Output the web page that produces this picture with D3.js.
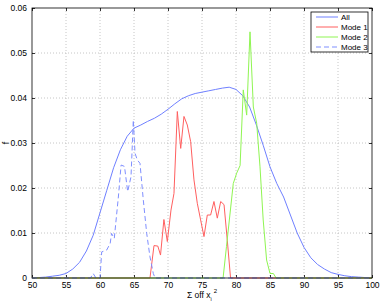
<!DOCTYPE html>
<html>
<head>
<meta charset="utf-8">
<script src="https://cdn.jsdelivr.net/npm/d3@7"></script>
<style>
  body { margin: 0; background: #fff; }
  svg { display: block; font-family: "Liberation Sans", Arial, sans-serif; }
</style>
</head>
<body>
<svg class="vis" width="382" height="303"></svg>
<script>
// x positions and values
const allX = [50,51,52,53,54,55,56,57,58,59,60,61,62,63,64,65,66,67,68,69,70,71,72,73,74,75,76,77,78,79,80,81,82,83,84,85,86,87,88,89,90,91,92,93,94,95,96,97,98,99,100];
const allY = [0,0.0001,0.0002,0.0004,0.0006,0.001,0.002,0.0035,0.006,0.0095,0.0145,0.0195,0.0245,0.0285,0.0315,0.0333,0.034,0.0348,0.0355,0.0364,0.0375,0.0387,0.0398,0.0405,0.041,0.0413,0.0416,0.0419,0.0422,0.0424,0.0419,0.0405,0.038,0.034,0.0295,0.0247,0.021,0.018,0.014,0.01,0.0068,0.0045,0.003,0.002,0.0012,0.0008,0.0005,0.0003,0.0002,0.0001,0];

const mode1X = [50,67.35,67.94,68.5,68.9,69.4,69.9,70.44,70.88,71.37,71.87,72.35,72.84,73.33,73.82,74.31,74.8,75.29,75.78,76.27,76.76,77.25,77.75,78.24,78.72,79.2,100];
const mode1Y = [0,0,0.0072,0.0071,0.0051,0.013,0.0081,0.0151,0.0188,0.037,0.0288,0.0359,0.034,0.0303,0.0218,0.0166,0.0129,0.0092,0.014,0.014,0.017,0.0133,0.017,0.0163,0.0084,0,0];

const mode2X = [50,78.1,78.6,79.1,79.6,80.1,80.6,81.07,81.57,82.06,82.55,83.04,83.53,84.0,84.5,85.0,85.5,85.9,100];
const mode2Y = [0,0,0.007,0.014,0.021,0.0233,0.025,0.0418,0.0362,0.0547,0.038,0.0344,0.0247,0.0129,0.004,0.001,0.001,0,0];

const mode3X = [50,58.6,59.0,59.4,60.0,60.25,60.98,61.5,61.7,62.1,62.7,63.1,63.6,64.07,64.56,64.9,65.15,65.5,65.88,66.37,66.87,67.35,67.84,68.1,100];
const mode3Y = [0,0,0.001,0,0,0.0058,0.0062,0.0077,0.0099,0.0088,0.018,0.0251,0.0248,0.0192,0.0225,0.0351,0.0277,0.0262,0.0255,0.0173,0.0099,0.0047,0.001,0,0];

const xTicks = [50,55,60,65,70,75,80,85,90,95,100];
const yTicks = [0,0.01,0.02,0.03,0.04,0.05,0.06];
const seriesNames = ["All","Mode 1","Mode 2","Mode 3"];

const v = {

    cfg : {
        left : 32, right : 372, top : 8, bottom : 278,
        colors : ["#6f80ff","#ff5f5f","#8ff552","#7f8fff"],
        dash : [null,null,null,"5,3"]
    },

    draw : () => {

        const c = v.cfg;
        const svg = d3.select('svg.vis');

        const x = d3.scaleLinear().domain([50,100]).range([c.left, c.right]);
        const y = d3.scaleLinear().domain([0,0.06]).range([c.bottom, c.top]);

        // grid
        const grid = svg.append("g")
          .attr("stroke", "#b8b8b8")
          .attr("stroke-width", 0.8)
          .attr("stroke-dasharray", "1,2");
        grid.selectAll("line.gx")
          .data(xTicks.slice(1, -1))
          .join("line")
          .attr("x1", d => x(d)).attr("x2", d => x(d))
          .attr("y1", c.top).attr("y2", c.bottom);
        grid.selectAll("line.gy")
          .data(yTicks.slice(1, -1))
          .join("line")
          .attr("class", "gy")
          .attr("x1", c.left).attr("x2", c.right)
          .attr("y1", d => y(d)).attr("y2", d => y(d));

        // axes (inward ticks)
        const fmtY = d => d === 0 ? "0" : d3.format(".2f")(d);
        const bx = svg.append("g").attr("transform", `translate(0,${c.bottom})`)
          .call(d3.axisBottom(x).tickValues(xTicks).tickSizeInner(-3).tickSizeOuter(0).tickPadding(4));
        const tx = svg.append("g").attr("transform", `translate(0,${c.top})`)
          .call(d3.axisTop(x).tickValues(xTicks).tickSizeInner(-3).tickSizeOuter(0).tickFormat(""));
        const ly = svg.append("g").attr("transform", `translate(${c.left},0)`)
          .call(d3.axisLeft(y).tickValues(yTicks).tickSizeInner(-3).tickSizeOuter(0).tickPadding(5).tickFormat(fmtY));
        const ry = svg.append("g").attr("transform", `translate(${c.right},0)`)
          .call(d3.axisRight(y).tickValues(yTicks).tickSizeInner(-3).tickSizeOuter(0).tickFormat(""));

        [bx, tx, ly, ry].forEach(g => {
            g.select(".domain").remove();
            g.selectAll("line").attr("stroke", "#000").attr("stroke-width", 0.8);
            g.selectAll("text").attr("font-size", 8.5).attr("fill", "#000")
              .attr("font-family", "Liberation Sans, Arial, sans-serif");
        });

        // curves
        const line = d3.line().x(d => x(d[0])).y(d => y(d[1]));
        const series = [
            d3.zip(allX, allY),
            d3.zip(mode1X, mode1Y),
            d3.zip(mode2X, mode2Y),
            d3.zip(mode3X, mode3Y)
        ];
        svg.append("g")
          .selectAll("path")
          .data(series)
          .join("path")
          .attr("d", line)
          .attr("fill", "none")
          .attr("stroke", (d, i) => c.colors[i])
          .attr("stroke-width", 1)
          .attr("stroke-dasharray", (d, i) => c.dash[i]);

        // box
        svg.append("rect")
          .attr("x", c.left).attr("y", c.top)
          .attr("width", c.right - c.left).attr("height", c.bottom - c.top)
          .attr("fill", "none").attr("stroke", "#000").attr("stroke-width", 0.8);

        // labels
        svg.append("text")
          .attr("transform", `translate(9,${(c.top + c.bottom) / 2}) rotate(-90)`)
          .attr("text-anchor", "middle")
          .attr("font-size", 9)
          .text("f");

        const xl = svg.append("text")
          .attr("x", (c.left + c.right) / 2)
          .attr("y", 298)
          .attr("text-anchor", "middle")
          .attr("font-size", 8.5);
        xl.append("tspan").text("Σ off x");
        xl.append("tspan").attr("font-size", 5.5).attr("dy", 3).text("i");
        xl.append("tspan").attr("font-size", 6).attr("dy", -8).attr("dx", 2).text("2");

        // legend
        const lg = svg.append("g").attr("transform", "translate(311,12)");
        lg.append("rect")
          .attr("width", 57).attr("height", 40)
          .attr("fill", "#fff").attr("stroke", "#000").attr("stroke-width", 0.8);
        const row = lg.selectAll("g.row")
          .data(seriesNames)
          .join("g")
          .attr("transform", (d, i) => `translate(0,${5 + i * 10})`);
        row.append("line")
          .attr("x1", 5).attr("x2", 27)
          .attr("stroke", (d, i) => c.colors[i])
          .attr("stroke-width", 1)
          .attr("stroke-dasharray", (d, i) => c.dash[i]);
        row.append("text")
          .attr("x", 30).attr("dy", "0.35em")
          .attr("font-size", 8)
          .text(d => d);
    }
};

v.draw();
</script>
</body>
</html>
